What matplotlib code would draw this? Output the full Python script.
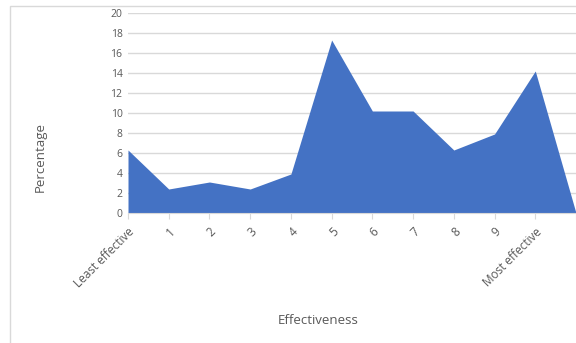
import matplotlib.pyplot as plt
from matplotlib.patches import Rectangle

# Share of responses by effectiveness rating
categories = ['Least effective', '1', '2', '3', '4', '5', '6', '7', '8', '9', 'Most effective', '']
percentages = [6.3, 2.4, 3.1, 2.4, 3.9, 17.3, 10.2, 10.2, 6.3, 7.9, 14.2, 0]
y_ticks = [0, 2, 4, 6, 8, 10, 12, 14, 16, 18, 20]

plt.rcParams['font.family'] = ['Open Sans', 'DejaVu Sans']

fig = plt.figure(figsize=(5.76, 3.43), dpi=100)
ax = fig.add_axes([128 / 576, 1 - 213 / 343, (576 - 128) / 576, 200 / 343])

x = list(range(len(categories)))
ax.fill_between(x, percentages, 0, color='#4472C4', linewidth=0, zorder=2)

ax.set_xlim(0, len(categories) - 1)
ax.set_ylim(0, 20)
ax.set_yticks(y_ticks)
ax.set_yticklabels([str(v) for v in y_ticks], color='#595959', fontsize=7.5)
ax.yaxis.grid(True, color='#d9d9d9', linewidth=1, zorder=0)
ax.tick_params(axis='y', length=0, pad=4)

ax.set_xticks(x)
ax.set_xticklabels(categories, rotation=45, ha='right', rotation_mode='anchor',
                   color='#595959', fontsize=8.5)
ax.tick_params(axis='x', length=4, color='#d9d9d9', pad=5)

for side in ['top', 'right', 'left']:
    ax.spines[side].set_visible(False)
ax.spines['bottom'].set_color('#d9d9d9')

fig.text(40 / 576, 1 - 157 / 343, 'Percentage', rotation=90, ha='center', va='center',
         color='#595959', fontsize=9.5)
fig.text(318 / 576, 1 - 320 / 343, 'Effectiveness', ha='center', va='center',
         color='#595959', fontsize=9.5)

# chart frame
fig.patches.append(Rectangle((10 / 576, -0.1), 1.2, 1 - 6 / 343 + 0.1, transform=fig.transFigure,
                             fill=False, edgecolor='#d9d9d9', linewidth=1))

fig.savefig('out.png', dpi=100)
